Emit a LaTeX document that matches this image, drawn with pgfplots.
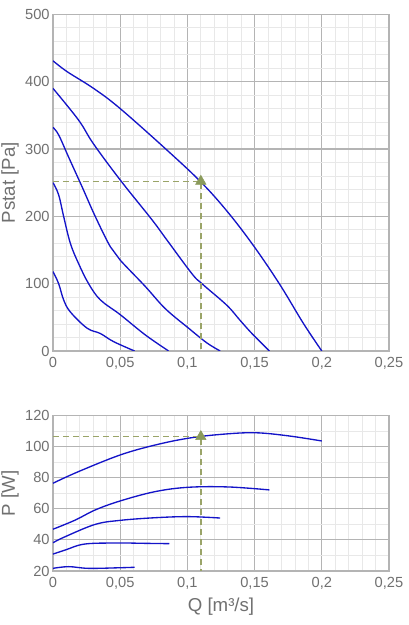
\documentclass[border=0pt]{standalone}
\usepackage{fontspec}
\setmainfont{Liberation Sans}
\usepackage{pgfplots}
\pgfplotsset{compat=1.18}
\definecolor{crv}{HTML}{1414C8}
\definecolor{opc}{HTML}{9AA468}
\definecolor{optri}{HTML}{8A9A5B}
\definecolor{majg}{HTML}{B4B4B4}
\definecolor{ming}{HTML}{E8E8E8}
\definecolor{txt}{HTML}{707070}
\tikzset{
  fan/.style={draw=crv, line width=1pt, smooth, tension=0.6, mark=none},
  opline/.style={draw=opc, line width=1pt, dash pattern=on 4.5pt off 3pt, sharp plot, mark=none},
  optri/.style={only marks, mark=triangle*, mark size=4.5pt, mark options={fill=optri, draw=optri}},
}
\pgfplotsset{
  mystyle/.style={
    scale only axis, width=252pt,
    xmin=0, xmax=0.25,
    xtick={0,0.05,0.1,0.15,0.2,0.25},
    xticklabels={0,{0,05},{0,1},{0,15},{0,2},{0,25}},
    minor x tick num=4,
    grid=both,
    major grid style={majg, line width=0.8pt},
    minor grid style={ming, line width=0.6pt},
    axis line style={majg, line width=0.8pt},
    tick style={draw=none},
    tick label style={font=\fontsize{11}{13}\selectfont, text=txt},
    label style={font=\fontsize{14}{16}\selectfont, text=txt},
    /pgf/number format/assume math mode=true,
    xlabel={Q [m³/s]},
    xticklabel style={yshift=-1pt},
    yticklabel style={xshift=1pt},
  }
}
\begin{document}
\begin{tikzpicture}
\useasboundingbox (0,0) rectangle (306.75pt,468.75pt);
\begin{axis}[mystyle, at={(39.75pt,205.5pt)}, anchor=south west, height=252.5pt,
  ymin=0, ymax=500, ytick={0,100,200,300,400,500}, minor y tick num=4,
  ylabel={Pstat [Pa]}, xlabel={}, ylabel style={yshift=-2pt}]
\addplot[fan] coordinates {(0,431) (0.0104,415) (0.0302,390) (0.05,360) (0.0872,294) (0.112,247) (0.1318,202) (0.1504,153) (0.169,98) (0.1863,41) (0.2,0)};
\addplot[fan] coordinates {(0,390) (0.019,343) (0.030,308) (0.05,254) (0.0736,195) (0.0847,165) (0.1033,115) (0.1108,100) (0.1293,68) (0.139,46) (0.148,26) (0.161,0)};
\addplot[fan] coordinates {(0,332) (0.0042,321) (0.0116,288) (0.0216,244) (0.0314,200) (0.0426,155) (0.05,135) (0.0686,96) (0.0835,63) (0.1008,34) (0.1145,12) (0.1244,0)};
\addplot[fan] coordinates {(0,250) (0.0042,232) (0.0079,200) (0.0129,160) (0.019,130) (0.0265,100) (0.0352,76) (0.05,54) (0.0686,24) (0.086,0)};
\addplot[fan] coordinates {(0,118) (0.0042,100) (0.0079,76) (0.0129,58) (0.0253,34) (0.0352,26) (0.045,14) (0.0607,0)};
\addplot[opline] coordinates {(0,252) (0.11,252) (0.11,0)};
\addplot[optri] coordinates {(0.11,252)};
\end{axis}
\begin{axis}[mystyle, at={(39.75pt,40.5pt)}, anchor=south west, height=116.5pt,
  ymin=20, ymax=120, ytick={20,40,60,80,100,120}, minor y tick num=1,
  ylabel={P [W]}, ylabel style={yshift=-2pt}]
\addplot[fan] coordinates {(0,76.5) (0.019,84) (0.05,94.7) (0.076,101.1) (0.1008,105.5) (0.1256,108) (0.1504,109) (0.1751,107) (0.2,103.7)};
\addplot[fan] coordinates {(0,46.9) (0.0166,52.8) (0.0314,59.3) (0.05,65.1) (0.076,71.1) (0.1008,73.9) (0.1305,74.1) (0.161,72.2)};
\addplot[fan] coordinates {(0,38.2) (0.0091,42.1) (0.0314,50) (0.05,52.6) (0.076,54.3) (0.1008,55) (0.1244,54.1)};
\addplot[fan] coordinates {(0,30.9) (0.0091,33.5) (0.024,37.4) (0.05,38) (0.0686,37.8) (0.0865,37.6)};
\addplot[fan] coordinates {(0,21.7) (0.0116,22.8) (0.0265,21.7) (0.05,22.1) (0.0607,22.4)};
\addplot[opline] coordinates {(0,106.5) (0.11,106.5) (0.11,20)};
\addplot[optri] coordinates {(0.11,106.5)};
\end{axis}
\end{tikzpicture}
\end{document}
